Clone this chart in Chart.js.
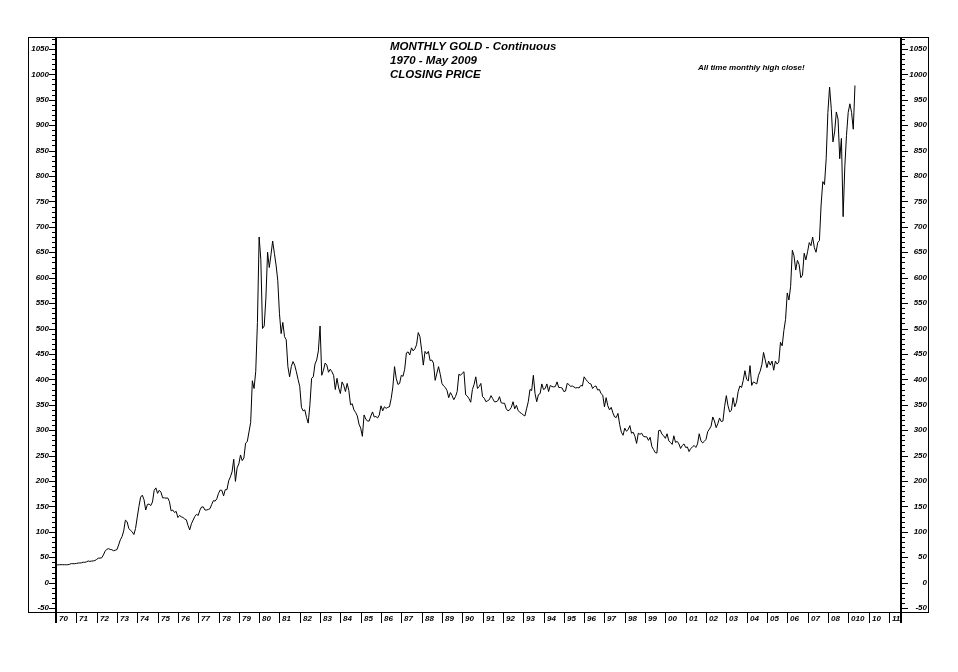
<!DOCTYPE html>
<html>
<head>
<meta charset="utf-8">
<script src="https://cdn.jsdelivr.net/npm/chart.js@4.4.0/dist/chart.umd.min.js"></script>
<style>
html, body {margin: 0; padding: 0; background: #FFF;}
#wrap {width: 958px; height: 672px;}
</style>
</head>
<body>
<div id="wrap"><canvas id="chart_gold" width="958" height="672"></canvas></div>
<script>
//data - first month is Jan 1970
const startYear = 1970;

//data - monthly close 1970 - 1979
const close1970s = [
    35.0, 35.2, 35.3, 35.6, 35.4, 35.4, 35.3, 35.4, 36.2, 37.5, 37.4, 37.4,
    37.9, 38.7, 38.9, 39.0, 40.5, 40.1, 41.0, 42.7, 42.0, 42.5, 42.9, 43.6,
    45.8, 48.3, 48.4, 49.0, 54.6, 62.0, 65.7, 67.0, 65.5, 64.9, 62.9, 63.9,
    65.1, 74.2, 84.4, 90.5, 102.0, 123.0, 120.0, 106.8, 103.0, 100.1, 94.8, 106.7,
    129.0, 150.2, 168.4, 172.2, 163.3, 143.0, 154.1, 154.6, 151.8, 158.8, 181.7, 186.5,
    175.8, 181.8, 178.2, 167.0, 167.0, 166.3, 166.7, 159.8, 141.3, 142.9, 138.2, 140.3,
    128.2, 132.3, 129.6, 128.4, 125.5, 123.8, 112.5, 104.0, 116.0, 123.2, 130.3, 134.5,
    132.3, 142.8, 148.9, 149.2, 143.0, 143.0, 144.1, 145.8, 154.1, 161.5, 160.5, 165.0,
    175.8, 182.3, 181.6, 170.9, 183.1, 183.1, 200.3, 208.1, 218.0, 242.8, 199.3, 226.0,
    233.7, 251.3, 240.1, 245.3, 274.6, 277.5, 296.5, 315.1, 397.3, 382.0, 415.7, 512.0
];

//data - monthly close 1980 - 1989
const close1980s = [
    680, 636, 500, 505, 560, 650, 620, 645, 672, 648, 625, 595,
    530, 490, 512, 484, 478, 425, 405, 425, 435, 428, 415, 400,
    386, 345, 338, 340, 325, 314, 350, 402, 405, 430, 438, 456,
    505, 408, 418, 432, 428, 414, 420, 415, 408, 380, 402, 383,
    372, 395, 388, 376, 392, 378, 350, 352, 340, 335, 328, 312,
    304, 288, 330, 322, 318, 318, 328, 336, 326, 327, 324, 330,
    348, 338, 346, 343, 345, 346, 362, 385, 425, 402, 390, 392,
    408, 406, 420, 452, 454, 448, 462, 456, 460, 468, 492, 484,
    458, 428, 455, 450, 455, 437, 438, 432, 398, 412, 425, 410,
    392, 387, 384, 378, 364, 374, 368, 360, 366, 376, 410, 408
];

//data - monthly close 1990 - 1999
const close1990s = [
    412, 415, 370, 367, 362, 355, 380, 390, 405, 382, 386, 392,
    366, 363, 356, 358, 360, 368, 362, 356, 356, 358, 366, 354,
    353, 353, 342, 338, 340, 345, 356, 342, 349, 339, 335, 333,
    330, 328, 342, 356, 380, 378, 408, 372, 356, 370, 372, 391,
    380, 382, 391, 376, 388, 386, 385, 386, 395, 384, 384, 383,
    376, 377, 392, 390, 386, 387, 385, 383, 384, 383, 388, 387,
    405, 400, 396, 392, 391, 382, 386, 387, 379, 380, 372, 369,
    346, 364, 348, 340, 345, 334, 326, 325, 333, 311, 296, 290,
    304, 298, 301, 309, 294, 296, 288, 274, 294, 292, 294, 288,
    287, 287, 280, 286, 268, 262, 256, 255, 299, 300, 292, 289
];

//data - monthly close 2000 - May 2009
const close2000s = [
    284, 293, 279, 276, 272, 289, 276, 278, 273, 264, 270, 273,
    266, 267, 258, 264, 267, 270, 266, 273, 293, 279, 275, 278,
    282, 297, 302, 308, 326, 318, 305, 313, 324, 317, 318, 347,
    368, 348, 336, 339, 364, 346, 355, 376, 387, 384, 398, 417,
    400, 397, 427, 388, 395, 393, 391, 408, 416, 429, 453, 438,
    423, 436, 428, 436, 418, 436, 430, 434, 473, 466, 496, 518,
    570, 556, 583, 654, 643, 615, 634, 626, 600, 605, 648, 635,
    651, 669, 663, 680, 659, 650, 669, 673, 743, 789, 783, 834,
    925, 975, 933, 867, 887, 926, 912, 834, 874, 720, 818, 880,
    925, 942, 925, 892, 978
];

//x축 - year labels (one per year from 1970)
const yearLabels = [
    '70', '71', '72', '73', '74', '75', '76', '77', '78', '79',
    '80', '81', '82', '83', '84', '85', '86', '87', '88', '89',
    '90', '91', '92', '93', '94', '95', '96', '97', '98', '99',
    '00', '01', '02', '03', '04', '05', '06', '07', '08', '010',
    '10', '11'
];

//y축 - tick labels
const yTicks = [
    -50, 0, 50, 100, 150, 200, 250, 300, 350, 400, 450, 500,
    550, 600, 650, 700, 750, 800, 850, 900, 950, 1000, 1050
];

//text
const titleLines = ['MONTHLY GOLD - Continuous', '1970 - May 2009', 'CLOSING PRICE'];
const noteText = 'All time monthly high close!';

const closes = [...close1970s, ...close1980s, ...close1990s, ...close2000s];
const points = closes.map((v, i) => ({x: startYear + i / 12, y: v}));

const tickFont = {family: '"Liberation Sans", Arial, sans-serif', size: 8, style: 'italic', weight: 'bold'};

//plugin - frame, tick marks, year labels, titles
const framePlugin = {
    id: 'frame',
    afterDraw(chart) {
        const {ctx, chartArea: {left, right, top, bottom}, scales: {x, y}} = chart;
        ctx.save();
        ctx.fillStyle = '#000';
        ctx.strokeStyle = '#000';

        //outer box
        ctx.lineWidth = 1;
        ctx.strokeRect(left - 28 + 0.5, top + 0.5, (right - left) + 56 - 1, bottom - top);

        //axis lines (run down into the year row)
        ctx.fillRect(left - 1, top, 2, bottom - top + 11);
        ctx.fillRect(right - 1, top, 2, bottom - top + 11);

        //y ticks - major every 50, minor every 10
        for (let v = -50; v <= y.max; v += 10) {
            const py = Math.round(y.getPixelForValue(v));
            const len = v % 50 === 0 ? 7 : 4;
            ctx.fillRect(left - len, py, len, 1);
            ctx.fillRect(right, py, len, 1);
        }

        //x ticks + labels
        ctx.font = 'italic bold 8px "Liberation Sans", Arial, sans-serif';
        ctx.textAlign = 'left';
        ctx.textBaseline = 'middle';
        yearLabels.forEach((label, i) => {
            const px = Math.round(x.getPixelForValue(startYear + i));
            if (i > 0) ctx.fillRect(px, bottom, 1, 11);
            ctx.fillText(label, px + 3, bottom + 6.5);
        });

        //title
        ctx.font = 'italic bold 11.5px "Liberation Sans", Arial, sans-serif';
        titleLines.forEach((t, i) => ctx.fillText(t, 390, 47 + i * 14));

        //note
        ctx.font = 'italic bold 8px "Liberation Sans", Arial, sans-serif';
        ctx.fillText(noteText, 698, 68);

        ctx.restore();
    }
};

//chart - line
new Chart(document.getElementById('chart_gold'), {
    type: 'line',
    data: {
        datasets: [{
            data: points,
            borderColor: '#000',
            borderWidth: 1,
            pointRadius: 0,
            tension: 0,
            fill: false
        }]
    },
    options: {
        responsive: false,
        animation: false,
        devicePixelRatio: 1,
        layout: {padding: {left: 28, right: 31, top: 37, bottom: 0}},
        plugins: {
            legend: {display: false},
            tooltip: {enabled: false}
        },
        scales: {
            x: {
                type: 'linear',
                min: 1970,
                max: 2011.6,
                grid: {display: false, drawTicks: false},
                border: {display: false},
                ticks: {display: false},
                afterFit(scale) {scale.height = 60;}
            },
            y: {
                position: 'left',
                min: -57.6,
                max: 1073.4,
                afterBuildTicks(scale) {scale.ticks = yTicks.map(v => ({value: v}));},
                ticks: {padding: 7, color: '#000', font: tickFont, autoSkip: false, callback: v => String(v)},
                grid: {display: false, drawTicks: false},
                border: {display: false},
                afterFit(scale) {scale.width = 28;}
            },
            y2: {
                position: 'right',
                min: -57.6,
                max: 1073.4,
                afterBuildTicks(scale) {scale.ticks = yTicks.map(v => ({value: v}));},
                ticks: {padding: 7, color: '#000', font: tickFont, autoSkip: false, crossAlign: 'far', callback: v => String(v)},
                grid: {display: false, drawTicks: false},
                border: {display: false},
                afterFit(scale) {scale.width = 26;}
            }
        }
    },
    plugins: [framePlugin]
});
</script>
</body>
</html>
